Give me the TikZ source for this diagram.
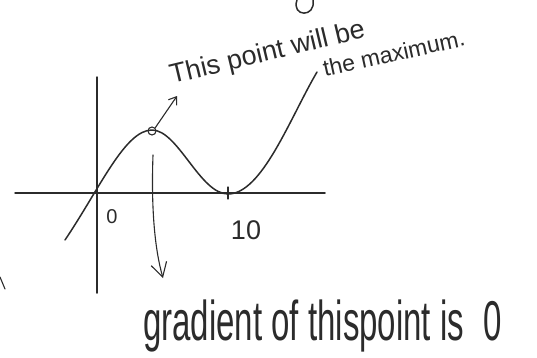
\documentclass[tikz,border=0pt]{standalone}
\usepackage{fontspec}
\setmainfont{Liberation Sans}
\usetikzlibrary{arrows.meta}
\definecolor{ink}{HTML}{2B2B2B}
\tikzset{
  pen/.style={draw=ink, line width=1.5pt, line cap=round, line join=round},
  thinpen/.style={draw=ink, line width=1.1pt, line cap=round, line join=round},
  lbl/.style={text=ink, inner sep=0pt},
  barb/.style={-{Straight Barb[length=7pt,width=10pt]}},
  bigbarb/.style={-{Straight Barb[length=14pt,width=16pt]}}
}
\begin{document}
\begin{tikzpicture}[x=1pt,y=-1pt]
\useasboundingbox (0,0) rectangle (537,357);
% axes
\coordinate (yt) at (97,77);
\coordinate (yb) at (97,293);
\coordinate (xl) at (15,193);
\coordinate (xr) at (325,193);
\draw[pen] (yt) -- (yb);
\draw[pen] (xl) -- (xr);
% tick at 10
\coordinate (tk1) at (228,187);
\coordinate (tk2) at (228,199);
\draw[thinpen] (tk1) -- (tk2);
% curve
\coordinate (c0) at (65,240);
\coordinate (cmax) at (152,130);
\coordinate (cmin) at (228,194);
\coordinate (c1) at (317,72);
\draw[pen] (c0) .. controls (100,188) and (125,130) .. (cmax)
  .. controls (178,130) and (200,194) .. (cmin)
  .. controls (262,194) and (290,118) .. (c1);
% marked point
\node[circle, thinpen, minimum size=8pt, inner sep=0pt] (P) at (152,131) {};
% arrows
\coordinate (up) at (177,96);
\draw[thinpen, barb] (P.north east) -- (up);
\coordinate (ds) at (153,155);
\coordinate (de) at (163,278);
\draw[thinpen, bigbarb] (ds) .. controls (151,210) and (155,250) .. (de);
% labels
\node[lbl, font=\fontsize{20}{22}\selectfont] (l0) at (112,217) {0};
\node[lbl, font=\fontsize{27}{30}\selectfont] (l10) at (246,230) {10};
\node[lbl, anchor=base west, rotate=13.5, font=\fontsize{27}{30}\selectfont] (t1) at (172,84) {This point will be};
\node[lbl, anchor=base west, rotate=12.6, font=\fontsize{23}{26}\selectfont] (t2) at (325,77) {the maximum.};
\node[lbl, anchor=base west, font=\fontsize{33}{36}\selectfont] (t3) at (143,340) {\scalebox{1}[1.7]{gradient of thispoint is\hspace{0.6em}0}};
% stray marks at the edges
\draw[pen] (297,0) .. controls (291,17) and (316,18) .. (313,0);
\draw[thinpen] (0,277) -- (5,289);
\end{tikzpicture}
\end{document}
